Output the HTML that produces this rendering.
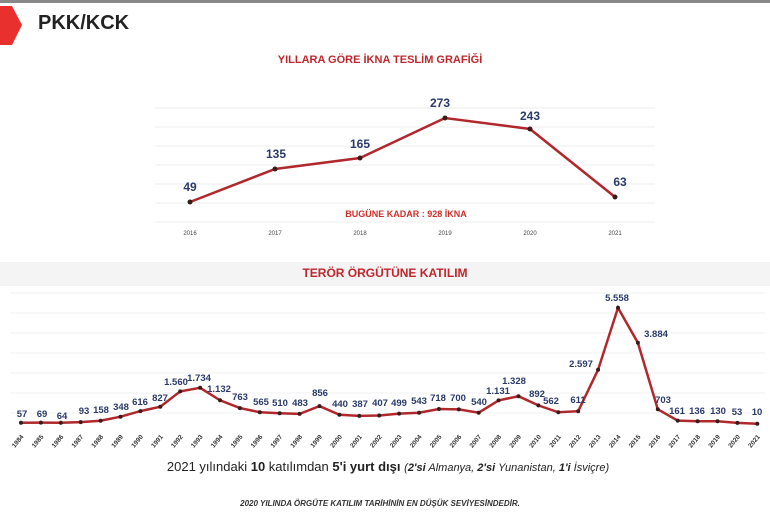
<!DOCTYPE html>
<html><head><meta charset="utf-8"><style>
body{margin:0;width:770px;height:527px;background:#fff;overflow:hidden;font-family:"Liberation Sans",sans-serif}
</style></head><body>
<svg width="770" height="527" viewBox="0 0 770 527" xmlns="http://www.w3.org/2000/svg" font-family="Liberation Sans, sans-serif">
<rect x="0" y="0" width="770" height="3" fill="#888"/>
<rect x="0" y="262" width="770" height="24" fill="#f4f4f4"/>
<polygon points="0,6 12,6 22,25 12,45 0,45" fill="#e8312f"/>
<text x="38" y="29" font-size="20" font-weight="bold" fill="#222">PKK/KCK</text>
<text x="380" y="63" font-size="11" font-weight="bold" fill="#c0262c" text-anchor="middle">YILLARA GÖRE İKNA TESLİM GRAFİĞİ</text>
<g stroke="#eee" stroke-width="1">
<line x1="155" y1="108" x2="655" y2="108"/><line x1="155" y1="127" x2="655" y2="127"/><line x1="155" y1="146" x2="655" y2="146"/><line x1="155" y1="165" x2="655" y2="165"/><line x1="155" y1="184" x2="655" y2="184"/><line x1="155" y1="203" x2="655" y2="203"/><line x1="155" y1="222" x2="655" y2="222"/>
</g>
<polyline points="190,202 275,169 360,158 445,118 530,129 615,197" fill="none" stroke="#b0282c" stroke-width="2.5"/>
<g fill="#3a1a1a"><circle cx="190" cy="202" r="2.5"/><circle cx="275" cy="169" r="2.5"/><circle cx="360" cy="158" r="2.5"/><circle cx="445" cy="118" r="2.5"/><circle cx="530" cy="129" r="2.5"/><circle cx="615" cy="197" r="2.5"/></g>
<g font-size="12" font-weight="bold" fill="#2a3a6a" text-anchor="middle">
<text x="190" y="191">49</text><text x="276" y="158">135</text><text x="360" y="148">165</text><text x="440" y="107">273</text><text x="530" y="120">243</text><text x="620" y="186">63</text>
</g>
<text x="406" y="217" font-size="9" font-weight="bold" fill="#d0302c" text-anchor="middle">BUGÜNE KADAR : 928 İKNA</text>
<g font-size="6" fill="#444" text-anchor="middle">
<text x="190" y="235">2016</text><text x="275" y="235">2017</text><text x="360" y="235">2018</text><text x="445" y="235">2019</text><text x="530" y="235">2020</text><text x="615" y="235">2021</text>
</g>
<text x="385" y="277" font-size="12" font-weight="bold" fill="#c0262c" text-anchor="middle">TERÖR ÖRGÜTÜNE KATILIM</text>
<g stroke="#f0f0f0" stroke-width="1">
<line x1="10" y1="293" x2="765" y2="293"/><line x1="10" y1="313" x2="765" y2="313"/><line x1="10" y1="333" x2="765" y2="333"/><line x1="10" y1="353" x2="765" y2="353"/><line x1="10" y1="373" x2="765" y2="373"/><line x1="10" y1="393" x2="765" y2="393"/><line x1="10" y1="413" x2="765" y2="413"/>
</g>
<polyline fill="none" stroke="#b0282c" stroke-width="2.5" points="21,422.8 40.9,422.6 60.8,422.7 80.7,422.1 100.6,420.7 120.5,416.7 140.4,411.1 160.3,406.7 180.2,391.4 200.1,387.8 220,400.3 239.9,408.1 259.8,412.2 279.7,413.3 299.6,413.9 319.5,406.1 339.4,414.8 359.3,415.9 379.2,415.5 399.1,413.6 419,412.7 438.9,409 458.8,409.4 478.7,412.7 498.6,400.4 518.5,396.2 538.4,405.4 558.3,412.3 578.2,411.2 598.1,369.7 618,307.8 637.9,342.8 657.8,409.3 677.7,420.6 697.6,421.2 717.5,421.3 737.4,422.9 757.3,423.8"/>
<g fill="#3a1a1a">
<circle cx="21" cy="422.8" r="2"/><circle cx="40.9" cy="422.6" r="2"/><circle cx="60.8" cy="422.7" r="2"/><circle cx="80.7" cy="422.1" r="2"/><circle cx="100.6" cy="420.7" r="2"/><circle cx="120.5" cy="416.7" r="2"/><circle cx="140.4" cy="411.1" r="2"/><circle cx="160.3" cy="406.7" r="2"/><circle cx="180.2" cy="391.4" r="2"/><circle cx="200.1" cy="387.8" r="2"/><circle cx="220" cy="400.3" r="2"/><circle cx="239.9" cy="408.1" r="2"/><circle cx="259.8" cy="412.2" r="2"/><circle cx="279.7" cy="413.3" r="2"/><circle cx="299.6" cy="413.9" r="2"/><circle cx="319.5" cy="406.1" r="2"/><circle cx="339.4" cy="414.8" r="2"/><circle cx="359.3" cy="415.9" r="2"/><circle cx="379.2" cy="415.5" r="2"/><circle cx="399.1" cy="413.6" r="2"/><circle cx="419" cy="412.7" r="2"/><circle cx="438.9" cy="409" r="2"/><circle cx="458.8" cy="409.4" r="2"/><circle cx="478.7" cy="412.7" r="2"/><circle cx="498.6" cy="400.4" r="2"/><circle cx="518.5" cy="396.2" r="2"/><circle cx="538.4" cy="405.4" r="2"/><circle cx="558.3" cy="412.3" r="2"/><circle cx="578.2" cy="411.2" r="2"/><circle cx="598.1" cy="369.7" r="2"/><circle cx="618" cy="307.8" r="2"/><circle cx="637.9" cy="342.8" r="2"/><circle cx="657.8" cy="409.3" r="2"/><circle cx="677.7" cy="420.6" r="2"/><circle cx="697.6" cy="421.2" r="2"/><circle cx="717.5" cy="421.3" r="2"/><circle cx="737.4" cy="422.9" r="2"/><circle cx="757.3" cy="423.8" r="2"/>
</g>
<g font-size="9.5" font-weight="bold" fill="#2a3a6a" text-anchor="middle">
<text x="22" y="417">57</text><text x="42" y="417">69</text><text x="62" y="419">64</text><text x="84" y="414">93</text><text x="101" y="413">158</text><text x="121" y="410">348</text><text x="140" y="405">616</text><text x="160" y="401">827</text><text x="176" y="385">1.560</text><text x="199" y="381">1.734</text><text x="219" y="392">1.132</text><text x="240" y="400">763</text><text x="261" y="405">565</text><text x="280" y="406">510</text><text x="300" y="406">483</text><text x="320" y="396">856</text><text x="340" y="407">440</text><text x="360" y="407">387</text><text x="380" y="406">407</text><text x="399" y="406">499</text><text x="419" y="404">543</text><text x="438" y="401">718</text><text x="458" y="401">700</text><text x="479" y="405">540</text><text x="498" y="394">1.131</text><text x="514" y="384">1.328</text><text x="537" y="397">892</text><text x="551" y="404">562</text><text x="578" y="403">611</text><text x="581" y="367">2.597</text><text x="617" y="301">5.558</text><text x="656" y="337">3.884</text><text x="663" y="403">703</text><text x="677" y="414">161</text><text x="697" y="414">136</text><text x="718" y="414">130</text><text x="737" y="415">53</text><text x="757" y="415">10</text>
</g>
<g font-size="6.5" font-weight="bold" fill="#333" text-anchor="end">
<text transform="translate(24,437) rotate(-50)">1984</text><text transform="translate(43.9,437) rotate(-50)">1985</text><text transform="translate(63.8,437) rotate(-50)">1986</text><text transform="translate(83.7,437) rotate(-50)">1987</text><text transform="translate(103.6,437) rotate(-50)">1988</text><text transform="translate(123.5,437) rotate(-50)">1989</text><text transform="translate(143.4,437) rotate(-50)">1990</text><text transform="translate(163.3,437) rotate(-50)">1991</text><text transform="translate(183.2,437) rotate(-50)">1992</text><text transform="translate(203.1,437) rotate(-50)">1993</text><text transform="translate(223,437) rotate(-50)">1994</text><text transform="translate(242.9,437) rotate(-50)">1995</text><text transform="translate(262.8,437) rotate(-50)">1996</text><text transform="translate(282.7,437) rotate(-50)">1997</text><text transform="translate(302.6,437) rotate(-50)">1998</text><text transform="translate(322.5,437) rotate(-50)">1999</text><text transform="translate(342.4,437) rotate(-50)">2000</text><text transform="translate(362.3,437) rotate(-50)">2001</text><text transform="translate(382.2,437) rotate(-50)">2002</text><text transform="translate(402.1,437) rotate(-50)">2003</text><text transform="translate(422,437) rotate(-50)">2004</text><text transform="translate(441.9,437) rotate(-50)">2005</text><text transform="translate(461.8,437) rotate(-50)">2006</text><text transform="translate(481.7,437) rotate(-50)">2007</text><text transform="translate(501.6,437) rotate(-50)">2008</text><text transform="translate(521.5,437) rotate(-50)">2009</text><text transform="translate(541.4,437) rotate(-50)">2010</text><text transform="translate(561.3,437) rotate(-50)">2011</text><text transform="translate(581.2,437) rotate(-50)">2012</text><text transform="translate(601.1,437) rotate(-50)">2013</text><text transform="translate(621,437) rotate(-50)">2014</text><text transform="translate(640.9,437) rotate(-50)">2015</text><text transform="translate(660.8,437) rotate(-50)">2016</text><text transform="translate(680.7,437) rotate(-50)">2017</text><text transform="translate(700.6,437) rotate(-50)">2018</text><text transform="translate(720.5,437) rotate(-50)">2019</text><text transform="translate(740.4,437) rotate(-50)">2020</text><text transform="translate(760.3,437) rotate(-50)">2021</text>
</g>
<text x="388" y="471" font-size="13" fill="#222" text-anchor="middle">2021 yılındaki <tspan font-weight="bold">10</tspan> katılımdan <tspan font-weight="bold">5'i yurt dışı</tspan> <tspan font-style="italic" font-size="11">(<tspan font-weight="bold">2'si</tspan> Almanya, <tspan font-weight="bold">2'si</tspan> Yunanistan, <tspan font-weight="bold">1'i</tspan> İsviçre)</tspan></text>
<text x="380" y="506" font-size="8" font-weight="bold" font-style="italic" fill="#333" text-anchor="middle">2020 YILINDA ÖRGÜTE KATILIM TARİHİNİN EN DÜŞÜK SEVİYESİNDEDİR.</text>
</svg>
</body></html>
